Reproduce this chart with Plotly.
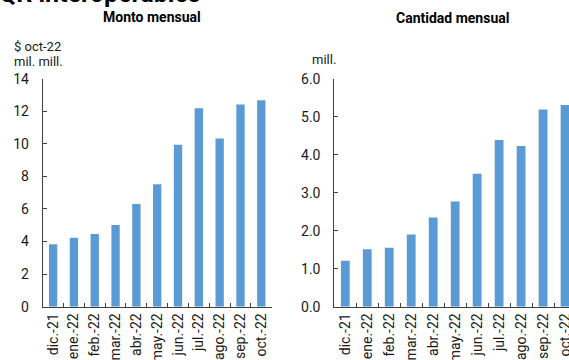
import plotly.graph_objects as go

months = ["dic.-21", "ene.-22", "feb.-22", "mar.-22", "abr.-22", "may.-22",
          "jun.-22", "jul.-22", "ago.-22", "sep.-22", "oct.-22"]
monto = [3.84, 4.23, 4.46, 5.01, 6.30, 7.52, 9.94, 12.18, 10.33, 12.42, 12.67]
cantidad = [1.21, 1.51, 1.55, 1.90, 2.35, 2.77, 3.50, 4.39, 4.23, 5.19, 5.31]

W, H = 569, 360
BLUE = "#5B9BD5"
AX = "#404040"
FONT = "Roboto"

fig = go.Figure()
fig.add_trace(go.Bar(x=months, y=monto, marker_color=BLUE, marker_line_width=0,
                     width=0.4, xaxis="x", yaxis="y", showlegend=False))
fig.add_trace(go.Bar(x=months, y=cantidad, marker_color=BLUE, marker_line_width=0,
                     width=0.4, xaxis="x2", yaxis="y2", showlegend=False))

def px_x(p):
    return p / W

def px_y(p):
    return 1 - p / H

ydom = [px_y(306.7), px_y(78.7)]

xcommon = dict(type="category", showline=True, linecolor=AX, linewidth=1,
               ticks="inside", ticklen=4, tickcolor=AX, tickson="boundaries",
               tickangle=-90, tickfont=dict(family=FONT, size=14, color="#1a1a1a"),
               showgrid=False, zeroline=False, fixedrange=True, automargin=False)
ycommon = dict(showline=True, linecolor=AX, linewidth=1, ticks="inside",
               ticklen=4, tickcolor=AX, showgrid=False, zeroline=False,
               tickfont=dict(family=FONT, size=14, color="#1a1a1a"), domain=ydom,
               automargin=False)

fig.update_layout(
    width=W, height=H,
    margin=dict(l=0, r=0, t=0, b=0, autoexpand=False),
    paper_bgcolor="white", plot_bgcolor="white",
    bargap=0.6,
    xaxis=dict(xcommon, domain=[px_x(42.7), px_x(271.7)], range=[-0.5, 10.5],
               anchor="y"),
    yaxis=dict(ycommon, range=[0, 14], dtick=2, anchor="x", ticklabelstandoff=10),
    xaxis2=dict(xcommon, domain=[px_x(334.3), 1.0], range=[-0.5, 10.18],
                anchor="y2"),
    yaxis2=dict(ycommon, range=[0, 6], dtick=1, tickformat=".1f", anchor="x2",
                ticklabelstandoff=10),
    font=dict(family=FONT),
)

anns = [
    dict(text="<b>QR interoperables</b>", x=px_x(-3), y=px_y(10.5), xanchor="left",
         yanchor="bottom", font=dict(size=25, color="black")),
    dict(text="<b>Monto mensual</b>", x=px_x(152), y=px_y(17), xanchor="center",
         yanchor="middle", font=dict(size=14, color="black")),
    dict(text="<b>Cantidad mensual</b>", x=px_x(452), y=px_y(18), xanchor="center",
         yanchor="middle", font=dict(size=14, color="black")),
    dict(text="$ oct-22", x=px_x(12), y=px_y(46), xanchor="left",
         yanchor="middle", font=dict(size=13, color="#1a1a1a")),
    dict(text="mil. mill.", x=px_x(12), y=px_y(61), xanchor="left",
         yanchor="middle", font=dict(size=13, color="#1a1a1a")),
    dict(text="mill.", x=px_x(338), y=px_y(60), xanchor="right",
         yanchor="middle", font=dict(size=13, color="#1a1a1a")),
]
for a in anns:
    a.update(xref="paper", yref="paper", showarrow=False)
fig.update_layout(annotations=anns)

fig.write_html("out.html")
